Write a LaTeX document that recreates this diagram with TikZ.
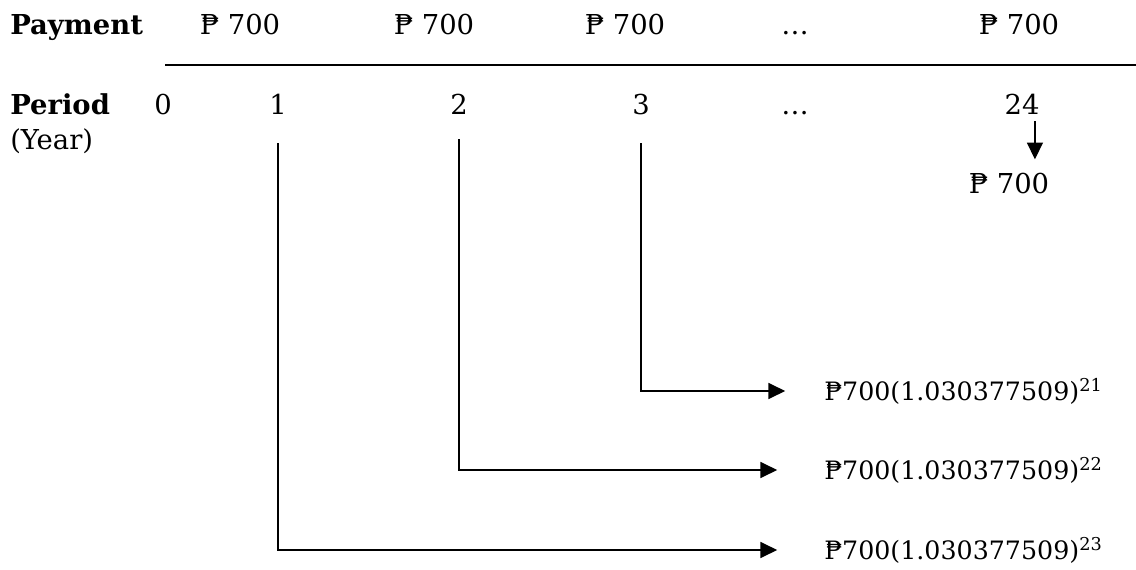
\documentclass[tikz,border=0pt]{standalone}
\usepackage{fontspec}
\setmainfont{DejaVu Serif}
\usepackage{tikz}
\usetikzlibrary{arrows.meta,calc,positioning}

\begin{document}
\begin{tikzpicture}[x=0.025cm,y=-0.025cm,
    lbl/.style={inner sep=0pt,font=\fontsize{19.5}{23}\selectfont},
    fv/.style={inner sep=0pt,font=\fontsize{18}{21}\selectfont},
    flow/.style={line width=1pt,-{Triangle[length=0.42cm,width=0.4cm]}}]
      \useasboundingbox (0,0) rectangle (1136,570);
      % row of payments
      \node[lbl,anchor=base west] (pay) at (10,35) {\bfseries Payment};
      \node[lbl,anchor=base] (a1) at (240,35) {₱ 700};
      \node[lbl,anchor=base] (a2) at (434,35) {₱ 700};
      \node[lbl,anchor=base] (a3) at (625,35) {₱ 700};
      \node[lbl,anchor=base] (adots) at (795,35) {\dots};
      \node[lbl,anchor=base] (a24) at (1019,35) {₱ 700};
      \coordinate (ruleL) at (165,65);
      \coordinate (ruleR) at (1136,65);
      \draw[line width=1.1pt] (ruleL) -- (ruleR);
      % periods
      \node[lbl,anchor=base west] (per) at (10,115) {\bfseries Period};
      \node[lbl,anchor=base west] (yr) at (10,150) {(Year)};
      \node[lbl,anchor=base] (p0) at (163,115) {0};
      \node[lbl,anchor=base] (p1) at (278,115) {1};
      \node[lbl,anchor=base] (p2) at (459,115) {2};
      \node[lbl,anchor=base] (p3) at (641,115) {3};
      \node[lbl,anchor=base] (pdots) at (795,115) {\dots};
      \node[lbl,anchor=base] (p24) at (1022,115) {24};
      \node[lbl,anchor=base] (last) at (1009,194) {₱ 700};
      \draw[flow,shorten <=0.15cm,shorten >=0.35cm]
        ([xshift=-0.12cm]p24.south east)
        -- ([xshift=-0.12cm]p24.south east |- last.north);
      % future values
      \node[fv,anchor=west] (f21) at (824,391) {₱700(1.030377509)\textsuperscript{21}};
      \node[fv,anchor=west] (f22) at (824,470) {₱700(1.030377509)\textsuperscript{22}};
      \node[fv,anchor=west] (f23) at (824,550) {₱700(1.030377509)\textsuperscript{23}};
      \draw[flow,shorten >=0.97cm] ([yshift=-0.7cm]p3.base) |- (f21);
      \draw[flow,shorten >=1.17cm] ([yshift=-0.6cm]p2.base) |- (f22);
      \draw[flow,shorten >=1.17cm] ([yshift=-0.7cm]p1.base) |- (f23);
\end{tikzpicture}
\end{document}
